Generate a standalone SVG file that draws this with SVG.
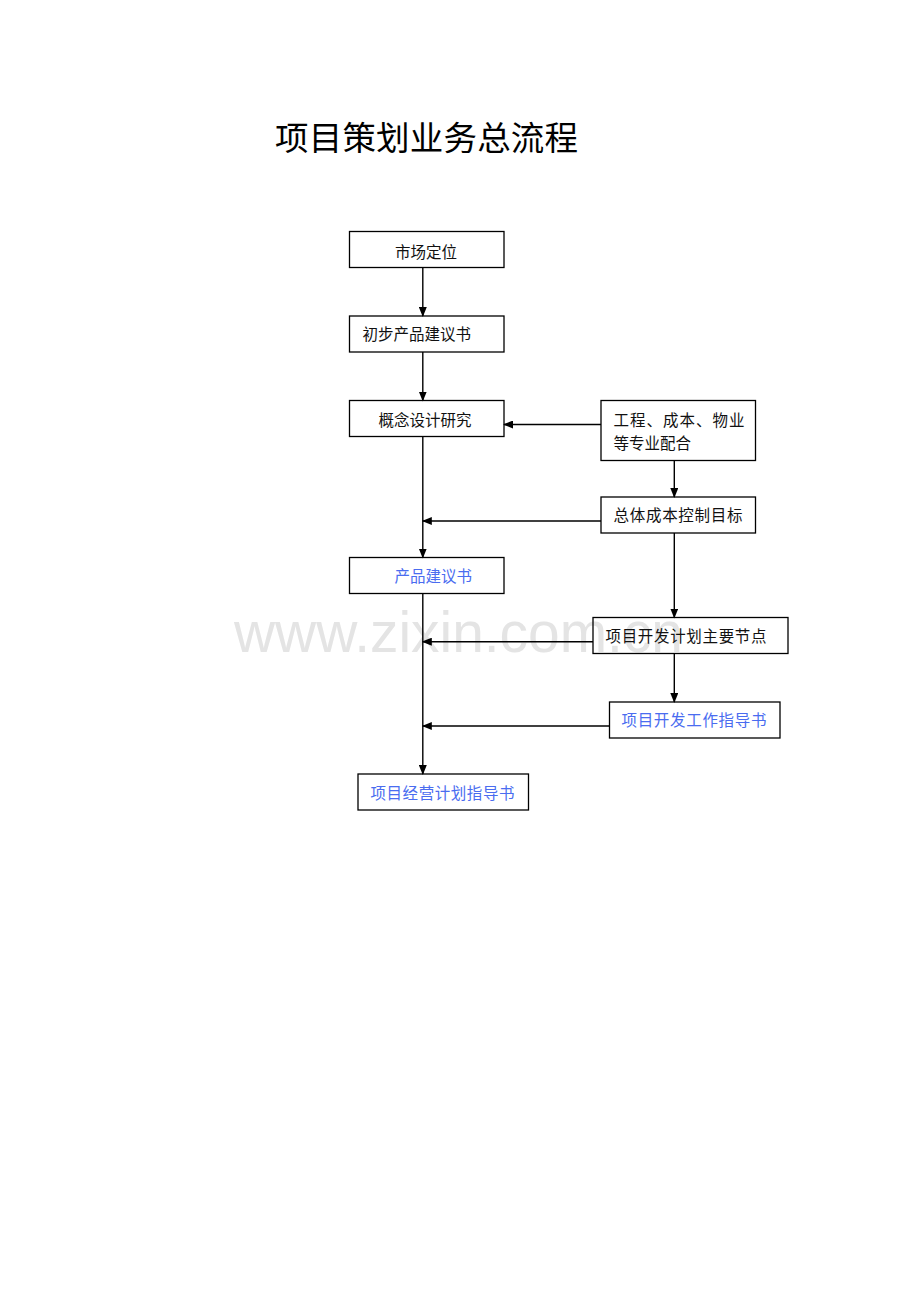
<svg xmlns="http://www.w3.org/2000/svg" width="920" height="1302" viewBox="0 0 920 1302">
<style>
.box{fill:none;stroke:#000;stroke-width:1.3}
.t{font-family:"Noto Sans CJK SC","Noto Sans",sans-serif;font-size:15.5px;fill:#111}
.b{fill:#4a6cf0}
.c{stroke:#000;stroke-width:1.4;fill:none;marker-end:url(#ah)}
</style>
<defs>
<marker id="ah" markerWidth="10" markerHeight="8" refX="9" refY="4" orient="auto" markerUnits="userSpaceOnUse">
<path d="M0,0 L10,4 L0,8 Z" fill="#000"/>
</marker>
</defs>
<rect width="920" height="1302" fill="#fff"/>
<text x="234" y="652" font-family="Liberation Sans,Arial,sans-serif" font-size="58" fill="#e4e4e4" textLength="449" lengthAdjust="spacingAndGlyphs">www.zixin.com.cn</text>
<text x="275" y="149.5" font-family="Noto Sans CJK SC,sans-serif" font-size="33.5" fill="#000" textLength="303" lengthAdjust="spacing">项目策划业务总流程</text>
<g id="n1"><rect class="box" x="349.5" y="231.5" width="154.5" height="36"/><text class="t" x="395" y="257.5">市场定位</text></g>
<g id="n2"><rect class="box" x="349.5" y="316" width="154.5" height="36"/><text class="t" x="362.5" y="340">初步产品建议书</text></g>
<g id="n3"><rect class="box" x="349.5" y="400.5" width="154.5" height="36"/><text class="t" x="378.5" y="426">概念设计研究</text></g>
<g id="n4"><rect class="box" x="601" y="400.5" width="154.5" height="60"/><text class="t" x="613.5" y="425.5" textLength="131" lengthAdjust="spacing">工程、成本、物业</text><text class="t" x="613.5" y="449">等专业配合</text></g>
<g id="n5"><rect class="box" x="601" y="497" width="154.5" height="36"/><text class="t" x="613.5" y="521" textLength="129" lengthAdjust="spacing">总体成本控制目标</text></g>
<g id="n6"><rect class="box" x="349.5" y="557.5" width="154.5" height="36"/><text class="t b" x="394.5" y="581.5">产品建议书</text></g>
<g id="n7"><rect class="box" x="593" y="617.5" width="195" height="36"/><text class="t" x="605.5" y="641.5" textLength="161" lengthAdjust="spacing">项目开发计划主要节点</text></g>
<g id="n8"><rect class="box" x="609.5" y="702" width="170.5" height="36"/><text class="t b" x="621.5" y="726" textLength="145" lengthAdjust="spacing">项目开发工作指导书</text></g>
<g id="n9"><rect class="box" x="358" y="774" width="170.5" height="36"/><text class="t b" x="370.5" y="798.5" textLength="144" lengthAdjust="spacing">项目经营计划指导书</text></g>
<g id="connectors">
<path class="c" d="M422.8,268 V316"/>
<path class="c" d="M422.8,352 V400.5"/>
<path class="c" d="M601,424.5 H504"/>
<path class="c" d="M422.8,436.5 V557.5"/>
<path class="c" d="M674.3,460.5 V497"/>
<path class="c" d="M601,521 H422.8"/>
<path class="c" d="M674.3,533 V617.5"/>
<path class="c" d="M593,641.7 H422.8"/>
<path class="c" d="M674.3,653.5 V702"/>
<path class="c" d="M609.5,726 H422.8"/>
<path class="c" d="M422.8,593.5 V774"/>
</g>
</svg>
